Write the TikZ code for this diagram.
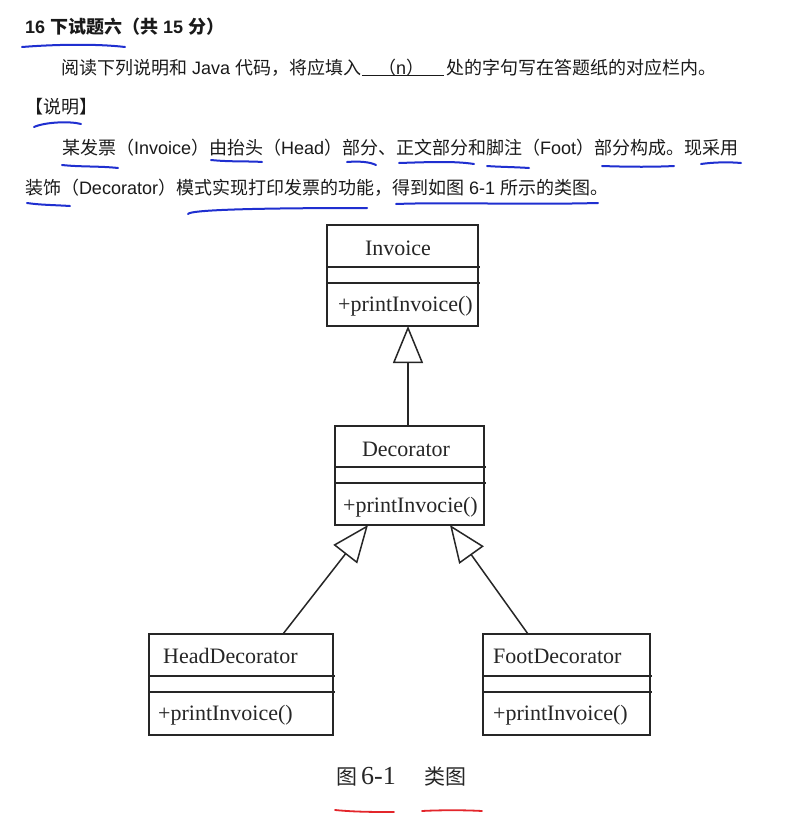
\documentclass[tikz,border=0pt]{standalone}
\usepackage{fontspec}
\setmainfont{Liberation Sans}
\newfontfamily\cjk{Noto Sans CJK SC}
\newfontfamily\tnr{Liberation Serif}
\usetikzlibrary{arrows.meta,calc}
\definecolor{ink}{HTML}{1A1A1A}
\definecolor{uml}{HTML}{262626}
\definecolor{pen}{HTML}{1F2FD0}
\definecolor{redpen}{HTML}{E3262B}
\tikzset{
  txt/.style={anchor=base west, inner sep=0pt, outer sep=0pt, font=\fontsize{18}{20}\selectfont, text=ink},
  umlbox/.style={draw=uml, line width=1.6pt, anchor=north west, inner sep=0pt, outer sep=0pt},
  umlname/.style={inner sep=0pt, font=\tnr\fontsize{22}{24}\selectfont, text=uml},
  sepline/.style={draw=uml, line width=1.6pt},
  inh/.style={draw=uml, line width=1.5pt, -{Triangle[open, length=37pt, width=30pt]}},
  penline/.style={draw=pen, line width=2pt, line cap=round},
  redline/.style={draw=redpen, line width=1.8pt, line cap=round},
  capfont/.style={anchor=base west, inner sep=0pt, text=uml}
}
\begin{document}
\begin{tikzpicture}[x=1pt,y=-1pt]
\useasboundingbox[fill=white] (0,0) rectangle (803,822);

% ---------- header text ----------
\node[txt, font=\bfseries\fontsize{18}{20}\selectfont] (title) at (25,33) {16 {\cjk 下试题六（共} 15 {\cjk 分）}};
\node[txt] (l2a) at (61,74) {{\cjk 阅读下列说明和} Java {\cjk 代码，将应填入}};
\node[txt] (l2n) at (378,74) {{\cjk （}n{\cjk ）}};
\draw[draw=ink, line width=1.6pt] (362,75.5) -- (444,75.5);
\node[txt] (l2b) at (446,74) {{\cjk 处的字句写在答题纸的对应栏内。}};
\node[txt] (l3) at (25,113) {{\cjk 【说明】}};
\node[txt] (l4) at (62,154) {{\cjk 某发票（}Invoice{\cjk ）由抬头（}Head{\cjk ）部分、正文部分和脚注（}Foot{\cjk ）部分构成。现采用}};
\node[txt] (l5) at (25,194) {{\cjk 装饰（}Decorator{\cjk ）模式实现打印发票的功能，得到如图} 6-1 {\cjk 所示的类图。}};

% ---------- blue pen underlines ----------
\draw[penline] (22,47) .. controls (60,44) and (100,44) .. (125,47);
\draw[penline] (34,127) .. controls (45,122) and (70,121) .. (81,124);
\draw[penline] (62,165) .. controls (80,167) and (100,166) .. (118,168);
\draw[penline] (211,160) .. controls (230,162) and (250,161) .. (262,162);
\draw[penline] (347,162) .. controls (360,161) and (370,162) .. (376,165);
\draw[penline] (399,163) .. controls (430,162) and (455,161) .. (474,164);
\draw[penline] (487,166) .. controls (500,167) and (515,167) .. (529,168);
\draw[penline] (602,166) .. controls (630,167) and (655,167) .. (674,166);
\draw[penline] (701,164) .. controls (715,162) and (730,162) .. (741,163);
\draw[penline] (27,203) .. controls (40,205) and (55,205) .. (70,206);
\draw[penline] (188,214) .. controls (190,210) and (250,208) .. (367,208);
\draw[penline] (396,204) .. controls (450,202) and (520,205) .. (598,203);

% ---------- UML class boxes ----------
\node[umlbox, minimum width=151pt, minimum height=101pt] (inv) at (327,225) {};
\draw[sepline] ($(inv.north west)+(0,42)$) -- ($(inv.north east)+(2,42)$);
\draw[sepline] ($(inv.north west)+(0,58)$) -- ($(inv.north east)+(2,58)$);
\node[umlname, anchor=base] (invn) at ($(inv.north west)+(71,30)$) {Invoice};
\node[umlname, anchor=base west] (invm) at ($(inv.north west)+(11,86)$) {+printInvoice()};

\node[umlbox, minimum width=149pt, minimum height=99pt] (dec) at (335,426) {};
\draw[sepline] ($(dec.north west)+(0,41)$) -- ($(dec.north east)+(2,41)$);
\draw[sepline] ($(dec.north west)+(0,57)$) -- ($(dec.north east)+(2,57)$);
\node[umlname, anchor=base] (decn) at ($(dec.north west)+(71,30)$) {Decorator};
\node[umlname, anchor=base west] (decm) at ($(dec.north west)+(8,86)$) {+printInvocie()};

\node[umlbox, minimum width=184pt, minimum height=101pt] (head) at (149,634) {};
\draw[sepline] ($(head.north west)+(0,42)$) -- ($(head.north east)+(2,42)$);
\draw[sepline] ($(head.north west)+(0,58)$) -- ($(head.north east)+(2,58)$);
\node[umlname, anchor=base west] (headn) at ($(head.north west)+(14,29)$) {HeadDecorator};
\node[umlname, anchor=base west] (headm) at ($(head.north west)+(9,86)$) {+printInvoice()};

\node[umlbox, minimum width=167pt, minimum height=101pt] (foot) at (483,634) {};
\draw[sepline] ($(foot.north west)+(0,42)$) -- ($(foot.north east)+(2,42)$);
\draw[sepline] ($(foot.north west)+(0,58)$) -- ($(foot.north east)+(2,58)$);
\node[umlname, anchor=base west] (footn) at ($(foot.north west)+(10,29)$) {FootDecorator};
\node[umlname, anchor=base west] (footm) at ($(foot.north west)+(10,86)$) {+printInvoice()};

% ---------- generalisation arrows ----------
\draw[inh] ($(dec.north west)+(73,0)$) -- ($(inv.south west)+(81,0)$);
\draw[inh] ($(head.north west)+(134,0)$) -- ($(dec.south west)+(33,0)$);
\draw[inh] ($(foot.north west)+(45,0)$) -- ($(dec.south east)+(-34,0)$);

% ---------- caption ----------
\node[capfont] (cap1) at (336,784) {{\cjk\fontsize{21}{22}\selectfont 图}\hspace{4pt}{\tnr\fontsize{26}{26}\selectfont 6-1}};
\node[capfont] (cap2) at (424,784) {{\cjk\fontsize{21}{22}\selectfont 类图}};
\draw[redline] (335,810) .. controls (355,812) and (375,812) .. (394,812);
\draw[redline] (422,811) .. controls (440,810) and (465,810) .. (482,811);
\end{tikzpicture}
\end{document}
